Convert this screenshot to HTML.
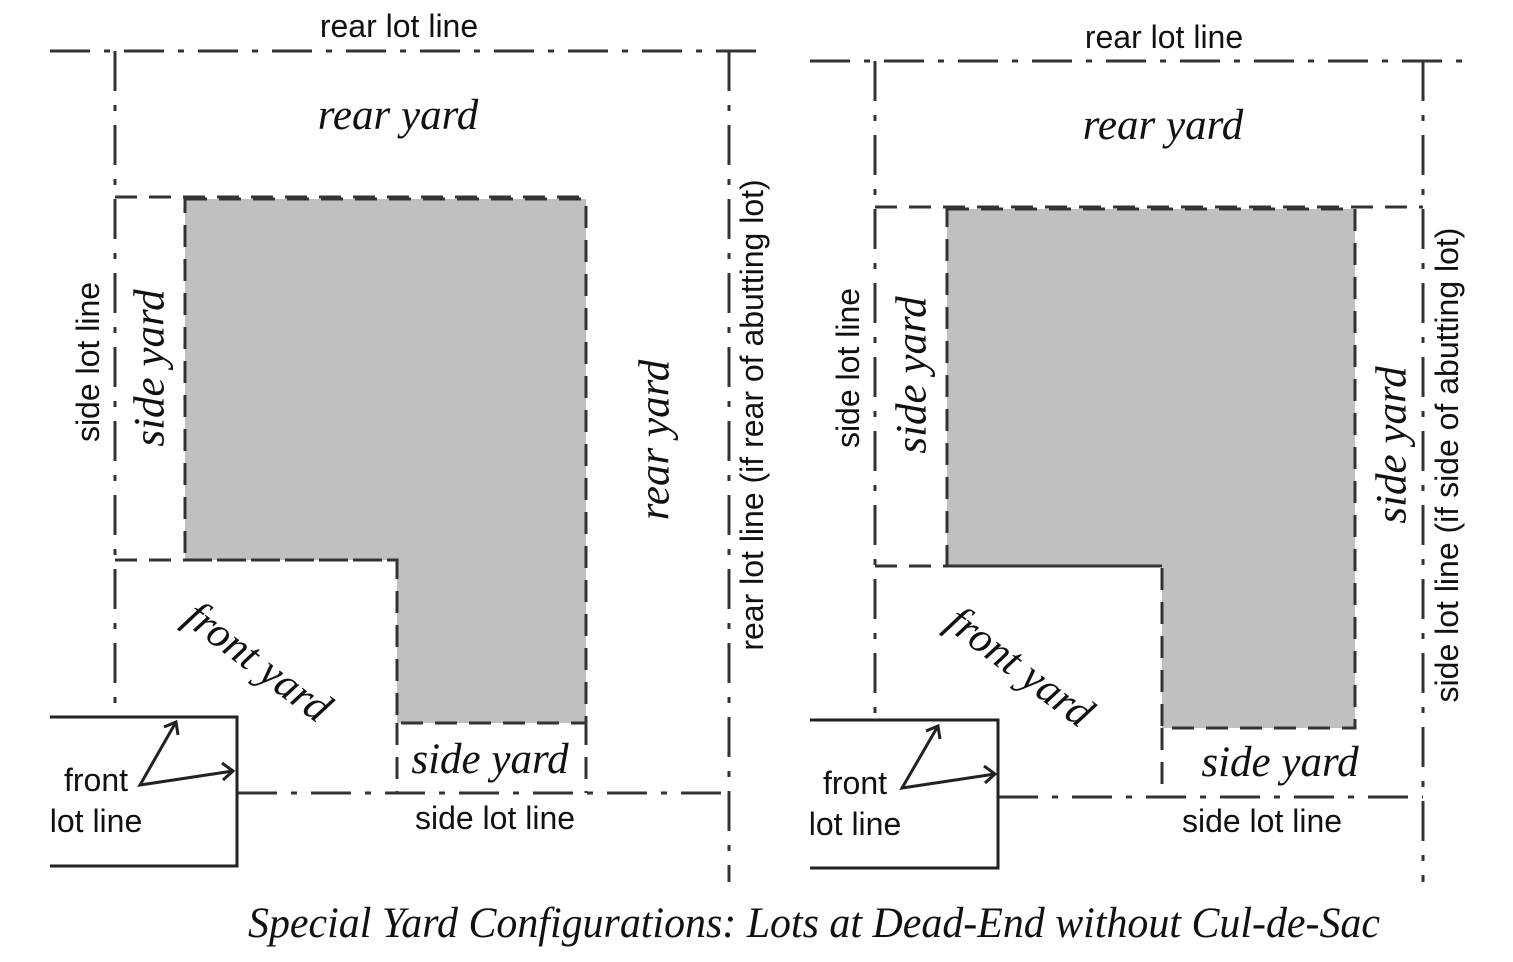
<!DOCTYPE html>
<html><head><meta charset="utf-8"><style>
html,body{margin:0;padding:0;background:#fff;}
svg{display:block;}
.s{font-family:"Liberation Sans",sans-serif;font-size:32px;fill:#111;}
.i{font-family:"Liberation Serif",serif;font-style:italic;font-size:43px;fill:#111;}
.dd{stroke:#333;stroke-width:3;fill:none;stroke-dasharray:40 14 6 14;}
.da{stroke:#333;stroke-width:3;fill:none;stroke-dasharray:22 12;}
.so{stroke:#222;stroke-width:3;fill:none;}
</style></head><body>
<svg width="1513" height="962" viewBox="0 0 1513 962" xmlns="http://www.w3.org/2000/svg">
<!-- LEFT -->
<polygon points="185,199 586,199 586,723 397,723 397,560 185,560" fill="#c0c0c0"/>
<polygon points="185,199 586,199 586,723 397,723 397,560 185,560" class="da"/>
<line x1="50" y1="51" x2="770" y2="51" class="dd"/>
<line x1="115" y1="51" x2="115" y2="717" class="dd"/>
<line x1="729" y1="51" x2="729" y2="882" class="dd"/>
<line x1="115" y1="197" x2="586" y2="197" class="da"/>
<line x1="115" y1="560" x2="397" y2="560" class="da"/>
<line x1="397" y1="723" x2="397" y2="793" class="da"/>
<line x1="586" y1="723" x2="586" y2="793" class="da"/>
<line x1="237" y1="793" x2="729" y2="793" class="dd"/>
<polyline points="50,717 237,717 237,866 50,866" class="so"/>
<polyline points="176,722 140,785 233,771" class="so"/>
<polyline points="164,727 176,722 178,735" class="so"/>
<polyline points="222,763 233,771 223,780" class="so"/>
<text x="399" y="37" text-anchor="middle" class="s">rear lot line</text>
<text x="398" y="129" text-anchor="middle" class="i">rear yard</text>
<text transform="translate(88,362) rotate(-90)" text-anchor="middle" dominant-baseline="central" class="s">side lot line</text>
<text transform="translate(150,368) rotate(-90)" text-anchor="middle" dominant-baseline="central" class="i">side yard</text>
<text transform="translate(655,440) rotate(-90)" text-anchor="middle" dominant-baseline="central" class="i">rear yard</text>
<text transform="translate(752,415) rotate(-90)" text-anchor="middle" dominant-baseline="central" class="s">rear lot line (if rear of abutting lot)</text>
<text transform="translate(258,662) rotate(37)" text-anchor="middle" dominant-baseline="central" class="i">front yard</text>
<text x="490" y="773" text-anchor="middle" class="i">side yard</text>
<text x="495" y="829" text-anchor="middle" class="s">side lot line</text>
<text x="96" y="791" text-anchor="middle" class="s">front</text>
<text x="96" y="832" text-anchor="middle" class="s">lot line</text>
<!-- RIGHT -->
<polygon points="947,209 1355,209 1355,728 1162,728 1162,566 947,566" fill="#c0c0c0"/>
<polygon points="947,209 1355,209 1355,728 1162,728 1162,566 947,566" class="da"/>
<line x1="810" y1="61" x2="1465" y2="61" class="dd"/>
<line x1="875" y1="61" x2="875" y2="720" class="dd"/>
<line x1="1423" y1="61" x2="1423" y2="882" class="dd"/>
<line x1="875" y1="207" x2="1423" y2="207" class="da"/>
<line x1="875" y1="566" x2="1162" y2="566" class="da"/>
<line x1="1162" y1="728" x2="1162" y2="797" class="da"/>
<line x1="998" y1="797" x2="1423" y2="797" class="dd"/>
<polyline points="810,720 998,720 998,868 810,868" class="so"/>
<polyline points="938,726 902,788 995,774" class="so"/>
<polyline points="926,731 938,726 940,739" class="so"/>
<polyline points="984,766 995,774 985,783" class="so"/>
<text x="1164" y="48" text-anchor="middle" class="s">rear lot line</text>
<text x="1163" y="139" text-anchor="middle" class="i">rear yard</text>
<text transform="translate(848,368) rotate(-90)" text-anchor="middle" dominant-baseline="central" class="s">side lot line</text>
<text transform="translate(912,375) rotate(-90)" text-anchor="middle" dominant-baseline="central" class="i">side yard</text>
<text transform="translate(1392,445) rotate(-90)" text-anchor="middle" dominant-baseline="central" class="i">side yard</text>
<text transform="translate(1447,465) rotate(-90)" text-anchor="middle" dominant-baseline="central" class="s">side lot line (if side of abutting lot)</text>
<text transform="translate(1020,667) rotate(37)" text-anchor="middle" dominant-baseline="central" class="i">front yard</text>
<text x="1280" y="776" text-anchor="middle" class="i">side yard</text>
<text x="1262" y="832" text-anchor="middle" class="s">side lot line</text>
<text x="855" y="794" text-anchor="middle" class="s">front</text>
<text x="855" y="835" text-anchor="middle" class="s">lot line</text>
<text x="814" y="937" text-anchor="middle" class="i" textLength="1132" lengthAdjust="spacingAndGlyphs">Special Yard Configurations: Lots at Dead-End without Cul-de-Sac</text>
</svg>
</body></html>
